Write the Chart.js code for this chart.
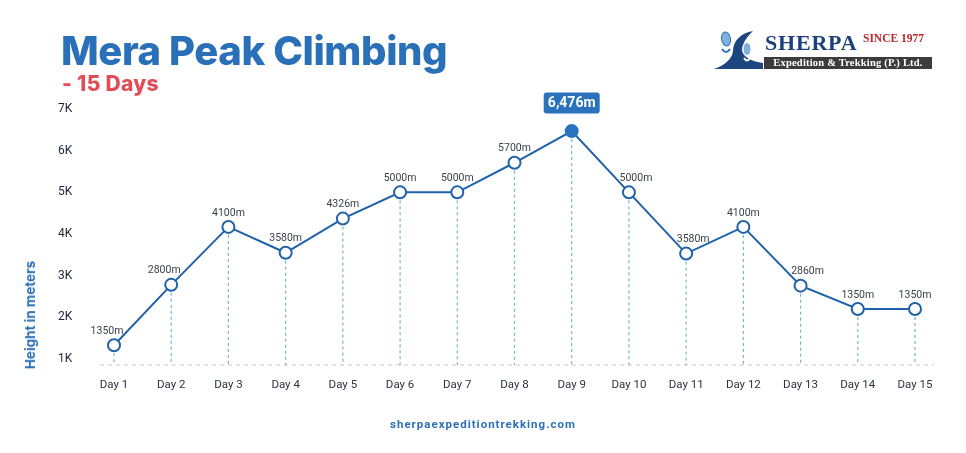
<!DOCTYPE html>
<html>
<head>
<meta charset="utf-8">
<script src="https://cdn.jsdelivr.net/npm/chart.js@4.4.1/dist/chart.umd.min.js"></script>
<style>
  html,body{margin:0;padding:0;background:#fff;}
  #wrap{position:relative;width:966px;height:453px;overflow:hidden;background:#fff;}
  #chart{position:absolute;left:0;top:0;}
  .title{position:absolute;left:61px;top:31px;font-family:Inter,"Open Sans",sans-serif;font-weight:800;font-size:40px;color:#2a70b8;letter-spacing:-0.4px;white-space:nowrap;line-height:1;}
  .subtitle{position:absolute;left:62px;top:73px;font-family:Inter,"Open Sans",sans-serif;font-weight:800;font-size:21px;color:#e24c56;white-space:nowrap;line-height:1;letter-spacing:0.3px;}
  .ytitle{position:absolute;left:30px;top:315px;transform:translate(-50%,-50%) rotate(-90deg);font-family:Inter,Roboto,sans-serif;font-weight:700;font-size:13.5px;color:#2a70b8;white-space:nowrap;}
  .footer{position:absolute;left:0;width:966px;top:417px;text-align:center;font-family:Roboto,sans-serif;font-weight:700;font-size:11.5px;letter-spacing:1px;color:#2a70b8;}
  .logo-sherpa{position:absolute;left:765px;top:32px;font-family:"Liberation Serif","DejaVu Serif",serif;font-weight:700;font-size:22px;color:#1d3f7a;letter-spacing:0.8px;line-height:1;}
  .logo-since{position:absolute;left:863px;top:33px;font-family:"Liberation Serif",serif;font-weight:700;font-size:11.5px;color:#c0262d;line-height:1;white-space:nowrap;}
  .logo-bar{position:absolute;left:764px;top:57px;width:168px;height:12px;background:#3c3c3c;color:#fff;font-family:"Liberation Serif",serif;font-weight:700;font-size:10.5px;line-height:12px;text-align:center;white-space:nowrap;letter-spacing:0.2px;}
  .logo-icon{position:absolute;left:705px;top:25px;}
</style>
</head>
<body>
<div id="wrap">
  <canvas id="chart" width="966" height="453"></canvas>
  <div class="title">Mera Peak Climbing</div>
  <div class="subtitle">- 15 Days</div>
  <div class="ytitle">Height in meters</div>
  <div class="footer">sherpaexpeditiontrekking.com</div>
  <svg class="logo-icon" width="60" height="50" viewBox="0 0 60 50">
    <path d="M9 44 L58 44 L58 38 C44 36 34 30 38 20 C40 14 44 10 48 6 C36 8 28 16 28 26 C27 34 20 40 9 44 Z" fill="#1d4680"/>
    <ellipse cx="21" cy="14" rx="4.5" ry="7" fill="#7fb0de" stroke="#2a70b8" stroke-width="1" transform="rotate(-10 21 14)"/>
    <path d="M17 24 q4 6 8 0" fill="none" stroke="#2a70b8" stroke-width="2"/>
    <ellipse cx="42" cy="24" rx="4" ry="6.5" fill="#7fb0de" stroke="#ffffff" stroke-width="1"/>
    <path d="M39 33 q3 5 6 0" fill="none" stroke="#ffffff" stroke-width="2"/>
  </svg>
  <div class="logo-sherpa">SHERPA</div>
  <div class="logo-since">SINCE 1977</div>
  <div class="logo-bar">Expedition &amp; Trekking (P.) Ltd.</div>
</div>
<script>
// ---- data ----
const days = ['Day 1','Day 2','Day 3','Day 4','Day 5','Day 6','Day 7','Day 8','Day 9','Day 10','Day 11','Day 12','Day 13','Day 14','Day 15'];
const heights = [1330, 2780, 4170, 3550, 4370, 5000, 5000, 5710, 6470, 5000, 3530, 4170, 2760, 2200, 2200];
const heightLabels = ['1350m','2800m','4100m','3580m','4326m','5000m','5000m','5700m','6,476m','5000m','3580m','4100m','2860m','1350m','1350m'];
const tickValues = [1000, 2000, 3000, 4000, 5000, 6000, 7000];
const tickLabels = ['1K','2K','3K','4K','5K','6K','7K'];

const BLUE = '#1f62aa';
const peakIndex = heights.indexOf(Math.max(...heights));

const decor = {
  id: 'decor',
  beforeDatasetsDraw(chart) {
    const {ctx, chartArea, scales} = chart;
    const base = scales.y.getPixelForValue(scales.y.min);
    ctx.save();
    ctx.setLineDash([4, 4]);
    ctx.strokeStyle = '#dcdcdc';
    ctx.lineWidth = 1.5;
    ctx.beginPath();
    ctx.moveTo(chartArea.left - 14, base);
    ctx.lineTo(chartArea.right + 19, base);
    ctx.stroke();
    ctx.setLineDash([3, 3]);
    ctx.strokeStyle = '#72b6cc';
    ctx.lineWidth = 1.2;
    chart.getDatasetMeta(0).data.forEach(pt => {
      ctx.beginPath();
      ctx.moveTo(pt.x, pt.y + 8);
      ctx.lineTo(pt.x, base);
      ctx.stroke();
    });
    ctx.restore();
  },
  afterDatasetsDraw(chart) {
    const {ctx} = chart;
    const pts = chart.getDatasetMeta(0).data;
    ctx.save();
    ctx.textAlign = 'center';
    ctx.textBaseline = 'middle';
    pts.forEach((pt, i) => {
      if (i === peakIndex) {
        ctx.font = '700 14px Roboto, sans-serif';
        const w = 56, h = 21, cx = pt.x, cy = pt.y - 28;
        ctx.fillStyle = '#2a72bb';
        ctx.beginPath();
        ctx.roundRect(cx - w / 2, cy - h / 2, w, h, 3);
        ctx.fill();
        ctx.fillStyle = '#ffffff';
        ctx.fillText(heightLabels[i], cx, cy + 0.5);
        return;
      }
      const prev = i > 0 ? heights[i - 1] : null;
      const next = i < heights.length - 1 ? heights[i + 1] : null;
      const isPeak = (prev === null || heights[i] > prev) && (next === null || heights[i] > next);
      const slope = prev !== null ? heights[i] - prev : next - heights[i];
      let dx = 0;
      if (!isPeak && Math.abs(slope) > 1000) dx = slope > 0 ? -7 : 7;
      ctx.font = '400 10.5px Roboto, sans-serif';
      ctx.fillStyle = '#3a3f47';
      ctx.fillText(heightLabels[i], pt.x + dx, pt.y - 14);
    });
    ctx.restore();
  }
};

new Chart(document.getElementById('chart'), {
  type: 'line',
  data: {
    labels: days,
    datasets: [{
      data: heights,
      borderColor: BLUE,
      borderWidth: 2,
      tension: 0,
      clip: false,
      pointRadius: heights.map((h, i) => i === peakIndex ? 7 : 6),
      pointBorderWidth: heights.map((h, i) => i === peakIndex ? 0 : 2),
      pointBackgroundColor: heights.map((h, i) => i === peakIndex ? '#2a72bb' : '#ffffff'),
      pointBorderColor: BLUE
    }]
  },
  options: {
    responsive: false,
    animation: false,
    devicePixelRatio: 1,
    layout: { padding: { left: 58, right: 51, top: 109, bottom: 48 } },
    plugins: { legend: { display: false }, tooltip: { enabled: false } },
    scales: {
      x: {
        offset: false,
        grid: { display: false, drawTicks: false },
        border: { display: false },
        ticks: { padding: 13, color: '#2b3340', font: { family: 'Roboto', size: 11.5 }, maxRotation: 0, autoSkip: false },
        afterFit(s) { s.height = 40; }
      },
      y: {
        min: 856,
        max: 7000,
        grid: { display: false, drawTicks: false },
        border: { display: false },
        afterBuildTicks(s) { s.ticks = tickValues.map(v => ({ value: v })); },
        ticks: {
          crossAlign: 'far',
          padding: 0,
          color: '#1c2438',
          font: { family: 'Roboto', size: 12 },
          callback(v) { const k = tickValues.indexOf(v); return k >= 0 ? tickLabels[k] : ''; }
        },
        afterFit(s) { s.width = 56; }
      }
    }
  },
  plugins: [decor]
});
</script>
</body>
</html>
